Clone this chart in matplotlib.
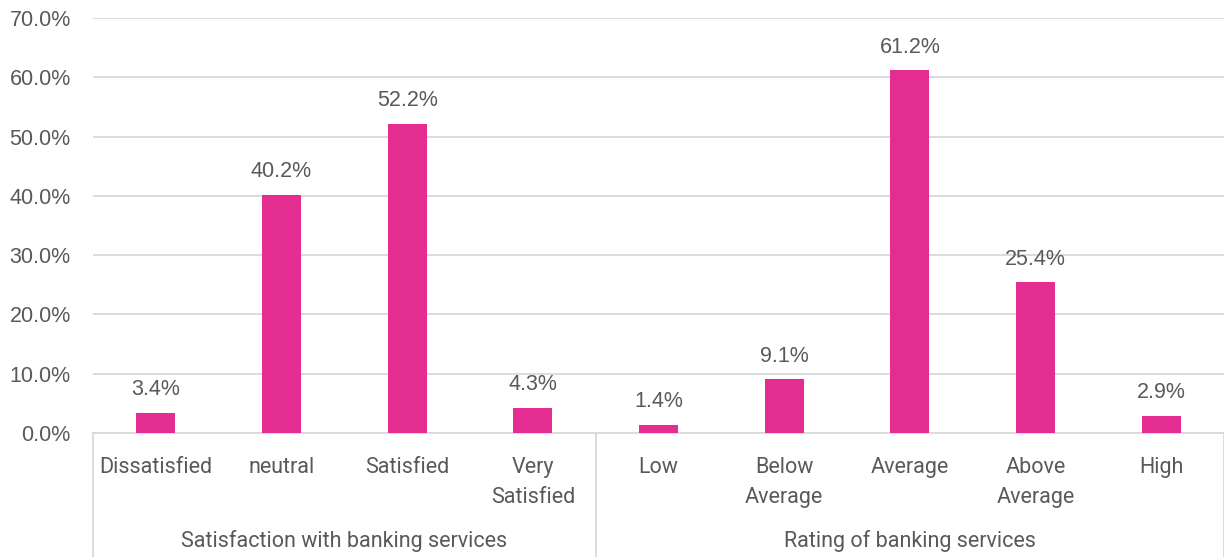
import matplotlib
matplotlib.use("Agg")
import matplotlib.pyplot as plt
from matplotlib.ticker import FuncFormatter, MultipleLocator
import matplotlib.transforms as mtransforms

# Survey results (% of respondents)
groups = ["Satisfaction with banking services", "Rating of banking services"]
satisfaction_labels = ["Dissatisfied", "neutral", "Satisfied", "Very\nSatisfied"]
satisfaction_values = [3.4, 40.2, 52.2, 4.3]
rating_labels = ["Low", "Below\nAverage", "Average", "Above\nAverage", "High"]
rating_values = [1.4, 9.1, 61.2, 25.4, 2.9]

labels = satisfaction_labels + rating_labels
values = satisfaction_values + rating_values
group_sizes = [len(satisfaction_labels), len(rating_labels)]

BAR_COLOR = "#E32D91"
TEXT_COLOR = "#595959"
GRID_COLOR = "#D9D9D9"
FONT = ["Liberation Sans", "DejaVu Sans"]
CAT_FONT = ["Roboto", "DejaVu Sans"]
SIZE = 15.5

fig = plt.figure(figsize=(12.24, 5.57), dpi=100)
ax = fig.add_axes([93 / 1224, 1 - 433 / 557, 1 - 93 / 1224, (433 - 18) / 557])

x = list(range(len(values)))
bars = ax.bar(x, values, width=0.31, color=BAR_COLOR, zorder=3)

ax.set_xlim(-0.5, len(values) - 0.5)
ax.set_ylim(0, 70)
ax.yaxis.set_major_locator(MultipleLocator(10))
ax.yaxis.set_major_formatter(FuncFormatter(lambda v, _: f"{v:.1f}%"))
ax.grid(axis="y", color=GRID_COLOR, linewidth=1.3, zorder=0)
ax.set_axisbelow(True)
for side in ("left", "right", "top"):
    ax.spines[side].set_visible(False)
ax.spines["bottom"].set_color(GRID_COLOR)
ax.spines["bottom"].set_linewidth(1.3)
ax.tick_params(axis="y", length=0, pad=16, labelsize=SIZE, labelcolor=TEXT_COLOR)
ax.tick_params(axis="x", length=0, labelbottom=False)
for t in ax.get_yticklabels():
    t.set_fontfamily(FONT)

# Value labels above each bar
for xi, v in zip(x, values):
    ax.annotate(f"{v:.1f}%", (xi, v), xytext=(0, 9), textcoords="offset points",
                ha="center", va="bottom", fontsize=SIZE, color=TEXT_COLOR,
                family=FONT)

# Two-level category axis below the plot
trans = mtransforms.blended_transform_factory(ax.transData, ax.transAxes)
ax_h = 433 - 18
for xi, lab in zip(x, labels):
    ax.text(xi, -(457 - 433) / ax_h, lab, transform=trans, ha="center", va="top",
            fontsize=SIZE, color=TEXT_COLOR, family=CAT_FONT,
            linespacing=1.58)

start = 0
bounds = [-0.5]
for g, n in zip(groups, group_sizes):
    center = start + (n - 1) / 2
    ax.text(center, -(541 - 433) / ax_h, g, transform=trans, ha="center",
            va="center", fontsize=SIZE, color=TEXT_COLOR, family=CAT_FONT)
    start += n
    bounds.append(start - 0.5)

for b in bounds:
    ax.plot([b, b], [0, -(560 - 433) / ax_h], transform=trans, color=GRID_COLOR,
            linewidth=1.3, clip_on=False)

fig.savefig("out.png", dpi=100)
